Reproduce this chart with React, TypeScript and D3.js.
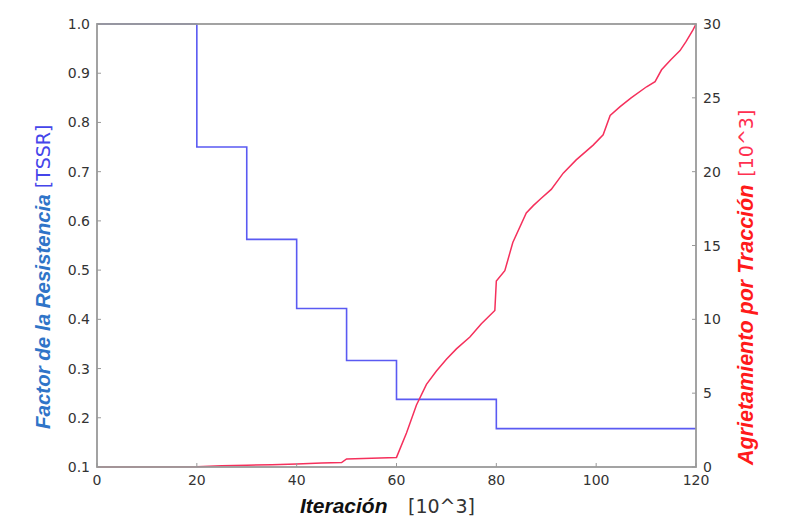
import React from "react";
import * as d3 from "d3";

const stepIter = [0, 20, 30, 40, 50, 60, 80, 120];
const stepFactor = [1.0, 0.75, 0.5625, 0.4219, 0.3164, 0.2373, 0.178, 0.178];

const crackIter = [0, 20, 25, 30, 35, 40, 45, 49, 50, 55, 60, 62, 64, 66, 68, 70, 72, 74.7, 77, 79.7, 80, 81.7, 83.3, 86, 87.4, 89, 91, 93.4, 96, 99.4, 101.4, 102.8, 104.8, 107, 110.1, 111.8, 113.1, 115, 116.8, 118, 119.4, 120];
const crackVal = [0, 0.02, 0.08, 0.12, 0.15, 0.2, 0.27, 0.3, 0.55, 0.6, 0.65, 2.3, 4.2, 5.6, 6.5, 7.3, 8.0, 8.8, 9.7, 10.6, 12.6, 13.3, 15.2, 17.2, 17.7, 18.2, 18.8, 19.9, 20.8, 21.8, 22.5, 23.8, 24.4, 25.0, 25.75, 26.1, 26.9, 27.6, 28.2, 28.8, 29.6, 30];

const xTicks = [0, 20, 40, 60, 80, 100, 120];
const leftTicks = [0.1, 0.2, 0.3, 0.4, 0.5, 0.6, 0.7, 0.8, 0.9, 1.0];
const rightTicks = [0, 5, 10, 15, 20, 25, 30];

const W = 787, H = 521;
const L = 97, R = 696, T = 24, B = 467;

export default function App() {
  const x = d3.scaleLinear().domain([0, 120]).range([L, R]);
  const yl = d3.scaleLinear().domain([0.1, 1.0]).range([B, T]);
  const yr = d3.scaleLinear().domain([0, 30]).range([B, T]);

  const stepLine = d3.line<number>().x((_, i) => x(stepIter[i])).y((d) => yl(d)).curve(d3.curveStepAfter);
  const crackLine = d3.line<number>().x((_, i) => x(crackIter[i])).y((d) => yr(d));

  const tickFont = { fontFamily: "DejaVu Sans", fontSize: 14, fill: "#333" } as const;

  return (
    <svg width={W} height={H} style={{ position: "absolute", left: 0, top: 0, background: "#fff" }}>
      <rect x={0} y={0} width={W} height={H} fill="#fff" />
      <path d={stepLine(stepFactor) || ""} fill="none" stroke="#5a5af2" strokeWidth={1.6} />
      <path d={crackLine(crackVal) || ""} fill="none" stroke="#f5305c" strokeWidth={1.5} />
      <rect x={L} y={T} width={R - L} height={B - T} fill="none" stroke="#999" strokeWidth={1.8} />
      {leftTicks.map((t) => (
        <g key={"l" + t}>
          <line x1={L} x2={L + 4} y1={yl(t)} y2={yl(t)} stroke="#999" />
          <text x={L - 7} y={yl(t)} textAnchor="end" dominantBaseline="central" {...tickFont}>{t.toFixed(1)}</text>
        </g>
      ))}
      {rightTicks.map((t) => (
        <g key={"r" + t}>
          <line x1={R - 4} x2={R} y1={yr(t)} y2={yr(t)} stroke="#999" />
          <text x={R + 7} y={yr(t)} textAnchor="start" dominantBaseline="central" {...tickFont}>{t}</text>
        </g>
      ))}
      {xTicks.map((t) => (
        <g key={"x" + t}>
          <line x1={x(t)} x2={x(t)} y1={B} y2={B - 4} stroke="#999" />
          <text x={x(t)} y={480} textAnchor="middle" dominantBaseline="central" {...tickFont}>{t}</text>
        </g>
      ))}
      <text x={300} y={513} fontFamily="Liberation Sans" fontSize={21} fontWeight="bold" fontStyle="italic" fill="#111">Iteración</text>
      <text x={408} y={513} fontFamily="DejaVu Sans" fontSize={19} fill="#333">[10^3]</text>
      <text transform="translate(50,429) rotate(-90)" fontFamily="Liberation Sans" fontSize={20.5} fontWeight="bold" fontStyle="italic" fill="#2f74c8">
        Factor de la Resistencia
        <tspan fontFamily="DejaVu Sans" fontWeight="normal" fontStyle="normal" fontSize={19} fill="#4545ea" dx={6}>[TSSR]</tspan>
      </text>
      <text transform="translate(753,465) rotate(-90)" fontFamily="Liberation Sans" fontSize={21.5} fontWeight="bold" fontStyle="italic" fill="#ff1a1a">
        Agrietamiento por Tracción
        <tspan fontFamily="DejaVu Sans" fontWeight="normal" fontStyle="normal" fontSize={19} fill="#ff3050" dx={8}>[10^3]</tspan>
      </text>
    </svg>
  );
}
